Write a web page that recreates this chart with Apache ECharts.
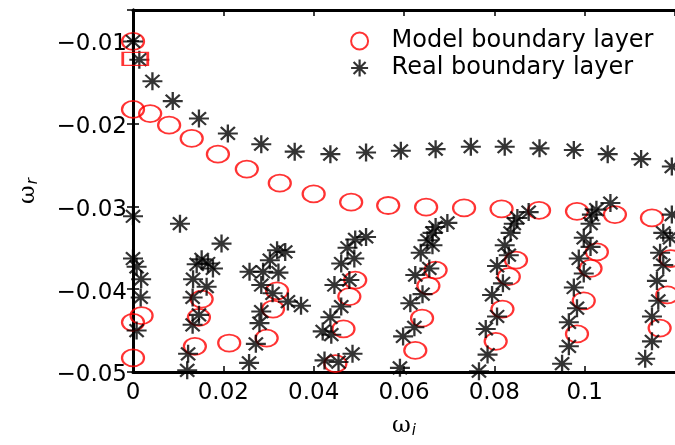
<!DOCTYPE html>
<html><head><meta charset="utf-8">
<script src="https://cdn.jsdelivr.net/npm/echarts@6/dist/echarts.min.js"></script>
<style>html,body{margin:0;padding:0;background:#fff}#c{width:675px;height:445px}</style>
</head><body><div id="c"></div>
<script>
// Model boundary layer (red circles)
const modelX = [
  0, 0, 0.0038, 0.0080, 0.0130, 0.0188, 0.0252, 0.0325, 0.0400, 0.0483, 0.0565, 0.0649, 0.0733, 0.0816, 0.0899, 0.0983, 0.1067, 0.1149,
  0, 0.0019, 0,
  0.0152, 0.0146, 0.0137, 0.0213,
  0.0319, 0.0310, 0.0296,
  0.0492, 0.0479, 0.0466, 0.0448,
  0.0670, 0.0654, 0.0640, 0.0625,
  0.0848, 0.0832, 0.0818, 0.0803,
  0.1027, 0.1013, 0.0998, 0.0983,
  0.1190, 0.1183, 0.1166
];
const modelY = [
  -0.0101, -0.0183, -0.0188, -0.0202, -0.0218, -0.0237, -0.0255, -0.0272, -0.0285, -0.0295, -0.0299, -0.0301, -0.0302, -0.0303, -0.0305, -0.0306, -0.0310, -0.0314,
  -0.0440, -0.0432, -0.0483,
  -0.0412, -0.0434, -0.0469, -0.0465,
  -0.0402, -0.0424, -0.0459,
  -0.0389, -0.0409, -0.0448, -0.0490,
  -0.0377, -0.0396, -0.0435, -0.0474,
  -0.0365, -0.0385, -0.0424, -0.0463,
  -0.0355, -0.0375, -0.0414, -0.0454,
  -0.0363, -0.0407, -0.0447
];
// Real boundary layer (black asterisks)
const realX = [
  0, 0.0014, 0.0043, 0.0088, 0.0146, 0.0210, 0.0284, 0.0358, 0.0437, 0.0516, 0.0593, 0.0670, 0.0748, 0.0823, 0.0900, 0.0976, 0.1051, 0.1125, 0.1193,
  0, 0, 0.0008, 0.0018, 0.0017, 0.0008,
  0.0104, 0.0196, 0.0152, 0.0141, 0.0166, 0.0177, 0.0133, 0.0163, 0.0132, 0.0146, 0.0132, 0.0122, 0.0120,
  0.0319, 0.0337, 0.0303, 0.0258, 0.0288, 0.0322, 0.0284, 0.0309, 0.0343, 0.0372, 0.0284, 0.0280, 0.0272, 0.0257,
  0.0516, 0.0492, 0.0475, 0.0490, 0.0461, 0.0479, 0.0446, 0.0461, 0.0437, 0.0420, 0.0439, 0.0486, 0.0424, 0.0455,
  0.0696, 0.0670, 0.0663, 0.0652, 0.0663, 0.0637, 0.0656, 0.0625, 0.0641, 0.0614, 0.0623, 0.0598, 0.0591,
  0.0876, 0.0851, 0.0843, 0.0836, 0.0823, 0.0832, 0.0806, 0.0819, 0.0795, 0.0806, 0.0781, 0.0785, 0.0766,
  0.1057, 0.1026, 0.1016, 0.1013, 0.0998, 0.1013, 0.0987, 0.0998, 0.0976, 0.0983, 0.0965, 0.0965, 0.0950,
  0.1193, 0.1174, 0.1189, 0.1167, 0.1174, 0.1160, 0.1163, 0.1149, 0.1149, 0.1134
];
const realY = [
  -0.0101, -0.0123, -0.0149, -0.0173, -0.0194, -0.0212, -0.0225, -0.0234, -0.0237, -0.0235, -0.0233, -0.0231, -0.0228, -0.0228, -0.0230, -0.0232, -0.0237, -0.0243, -0.0252,
  -0.0312, -0.0363, -0.0373, -0.0388, -0.0410, -0.0450,
  -0.0321, -0.0345, -0.0364, -0.0370, -0.0369, -0.0375, -0.0388, -0.0397, -0.0410, -0.0431, -0.0443, -0.0478, -0.0498,
  -0.0353, -0.0355, -0.0365, -0.0379, -0.0379, -0.0380, -0.0395, -0.0405, -0.0415, -0.0420, -0.0427, -0.0441, -0.0466, -0.0489,
  -0.0337, -0.0340, -0.0350, -0.0363, -0.0369, -0.0389, -0.0395, -0.0421, -0.0434, -0.0451, -0.0455, -0.0478, -0.0486, -0.0488,
  -0.0320, -0.0325, -0.0332, -0.0341, -0.0347, -0.0356, -0.0375, -0.0383, -0.0406, -0.0417, -0.0446, -0.0457, -0.0495,
  -0.0307, -0.0314, -0.0321, -0.0332, -0.0347, -0.0359, -0.0372, -0.0393, -0.0407, -0.0433, -0.0448, -0.0479, -0.0499,
  -0.0296, -0.0304, -0.0310, -0.0321, -0.0338, -0.0349, -0.0363, -0.0381, -0.0398, -0.0423, -0.0440, -0.0469, -0.0490,
  -0.0310, -0.0332, -0.0338, -0.0356, -0.0371, -0.0390, -0.0414, -0.0433, -0.0463, -0.0484
];
// Marked point (red square)
const markX = [0.0005];
const markY = [-0.0122];

const seriesNames = ['Model boundary layer', 'Real boundary layer'];
const xTicks = { min: 0, max: 0.12, step: 0.02 };
const yTicks = { min: -0.05, max: -0.0063, step: 0.01 };

const zip = (a, b) => a.map((v, i) => [v, b[i]]);
const ELLIPSE = 'path://M-10,0A10,10,0,1,1,10,0A10,10,0,1,1,-10,0Z';
const STAR = 'path://M0,-10L0,10M-10,0L10,0M-7.07,-7.07L7.07,7.07M-7.07,7.07L7.07,-7.07';
const FONT = 'DejaVu Sans';

const isMult = (v, s) => Math.abs(v / s - Math.round(v / s)) < 1e-6;
const axisLineStyle = { show: true, lineStyle: { color: '#000', width: 3 } };
const tickStyle = { show: true, inside: true, length: 6, lineStyle: { color: '#000', width: 1.5 } };

const chart = echarts.init(document.getElementById('c'), null, { renderer: 'canvas' });
chart.setOption({
  animation: false,
  backgroundColor: '#fff',
  grid: { left: 133, top: 10, right: -2, bottom: 73, containLabel: false },
  legend: {
    orient: 'vertical', left: 345, top: 24, itemWidth: 22, itemHeight: 17, itemGap: 3,
    data: [
      { name: seriesNames[0], icon: ELLIPSE, itemStyle: { color: 'rgba(0,0,0,0)', borderColor: '#ff0000', borderWidth: 2 } },
      { name: seriesNames[1], icon: STAR, itemStyle: { color: 'rgba(0,0,0,0)', borderColor: '#000', borderWidth: 2.2 } }
    ],
    textStyle: { fontFamily: FONT, fontSize: 24, color: '#000', lineHeight: 24, padding: [0, 0, 0, 16] }
  },
  xAxis: [
    {
      type: 'value', position: 'bottom', min: xTicks.min, max: xTicks.max, interval: xTicks.step,
      axisLine: axisLineStyle, axisTick: tickStyle, splitLine: { show: false },
      axisLabel: {
        color: '#000', fontFamily: FONT, fontSize: 23, margin: 10, showMaxLabel: false,
        formatter: v => (v > 0.11 ? '' : String(parseFloat(v.toFixed(3))))
      },
      name: '{w|ω}{s|i}', nameLocation: 'middle', nameGap: 42,
      nameTextStyle: { rich: {
        w: { fontFamily: 'DejaVu Serif', fontSize: 23, color: '#000' },
        s: { fontFamily: 'DejaVu Sans', fontStyle: 'italic', fontSize: 15, color: '#000', padding: [10, 0, 0, 1] }
      } }
    },
    {
      type: 'value', position: 'top', min: xTicks.min, max: xTicks.max, interval: xTicks.step,
      axisLine: axisLineStyle, axisTick: tickStyle, axisLabel: { show: false }, splitLine: { show: false }
    }
  ],
  yAxis: [
    {
      type: 'value', position: 'left', min: yTicks.min, max: yTicks.max, interval: yTicks.step,
      axisLine: axisLineStyle, axisTick: tickStyle, splitLine: { show: false },
      axisLabel: {
        color: '#000', margin: 6, showMaxLabel: false,
        formatter: v => (isMult(v, 0.01) ? '{t|\u2212' + parseFloat(Math.abs(v).toFixed(3)) + '}' : ''),
        rich: { t: { fontFamily: FONT, fontSize: 23, color: '#000', padding: [7, 0, 0, 0] } }
      },
      name: '{w|ω}{s|r}', nameLocation: 'middle', nameRotate: 90, nameGap: 92,
      nameTextStyle: { rich: {
        w: { fontFamily: 'DejaVu Serif', fontSize: 23, color: '#000' },
        s: { fontFamily: 'DejaVu Sans', fontStyle: 'italic', fontSize: 15, color: '#000', padding: [10, 0, 0, 1] }
      } }
    },
    {
      type: 'value', position: 'right', min: yTicks.min, max: yTicks.max, interval: yTicks.step,
      axisLine: axisLineStyle, axisTick: tickStyle, axisLabel: { show: false }, splitLine: { show: false }
    }
  ],
  series: [
    {
      name: seriesNames[0], type: 'scatter', data: zip(modelX, modelY),
      symbol: ELLIPSE, symbolSize: [22, 17], symbolKeepAspect: false,
      itemStyle: { color: 'rgba(0,0,0,0)', borderColor: '#ff0000', borderWidth: 2 }, z: 2
    },
    {
      name: seriesNames[1], type: 'scatter', data: zip(realX, realY),
      symbol: STAR, symbolSize: [20, 18], symbolKeepAspect: false,
      itemStyle: { color: 'rgba(0,0,0,0)', borderColor: '#000', borderWidth: 2.2 }, z: 3
    },
    {
      name: 'marker', type: 'scatter', data: zip(markX, markY),
      symbol: 'rect', symbolSize: [25, 13],
      itemStyle: { color: 'rgba(0,0,0,0)', borderColor: '#ff0000', borderWidth: 2 }, z: 4
    }
  ]
});
</script>
</body></html>
